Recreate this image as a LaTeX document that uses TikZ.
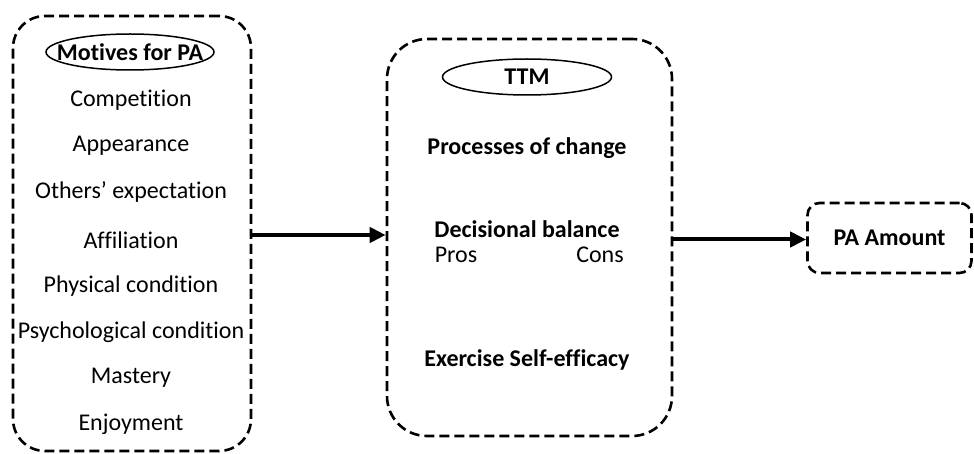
\documentclass[tikz,border=0pt]{standalone}
\usepackage{fontspec}
\setmainfont{Carlito}[Ligatures=NoCommon]
\usetikzlibrary{shapes.geometric,arrows.meta,positioning}

\begin{document}
\begin{tikzpicture}
[
x=1pt, y=1pt,
every node/.style={font=\fontsize{24}{28}\selectfont},
box/.style={draw, dashed, dash pattern=on 10pt off 5pt, line width=2.6pt, rounded corners=#1},
oval/.style={draw, line width=1.5pt},
bold/.style={font=\fontsize{24}{28}\selectfont\bfseries},
flow/.style={-{Triangle[length=16pt,width=15pt]}, line width=4pt}
]
\useasboundingbox (0,0) rectangle (974,453);

\node[box=32pt, minimum width=238, minimum height=435] (motives) at (132,219.5) {};
\node[bold] (motivestag) at (130,401) {Motives for PA};
\draw[oval] (motivestag) ellipse [x radius=84, y radius=18];
\node (competition) at (131,353) {Competition};
\node (appearance) at (131,307) {Appearance};
\node (others) at (131,261) {Others’ expectation};
\node (affiliation) at (131,213) {Affiliation};
\node (physical) at (131,167) {Physical condition};
\node (psychological) at (131,121) {Psychological condition};
\node (mastery) at (131,75) {Mastery};
\node (enjoyment) at (131,29) {Enjoyment};

\node[box=40pt, minimum width=285, minimum height=397] (ttm) at (529.5,215.5) {};
\node[bold] (ttmtag) at (527,376) {TTM};
\draw[oval] (ttmtag) ellipse [x radius=84.5, y radius=18];
\node[bold] (processes) at (527,305) {Processes of change};
\node[bold] (decisional) at (527,224) {Decisional balance};
\node (pros) at (456,198) {Pros};
\node (cons) at (600,198) {Cons};
\node[bold] (efficacy) at (527,93) {Exercise Self-efficacy};

\node[box=12pt, minimum width=164, minimum height=70] (amount) at (889.5,215) {};
\node[bold] at (amount) {PA Amount};

\draw[flow] ([yshift=-1.5pt]motives.east) -- ([yshift=-1.5pt]motives.east -| ttm.west);
\draw[flow] ([yshift=-2pt]ttm.east) -- ([yshift=-2pt]ttm.east -| amount.west);
\end{tikzpicture}
\end{document}
